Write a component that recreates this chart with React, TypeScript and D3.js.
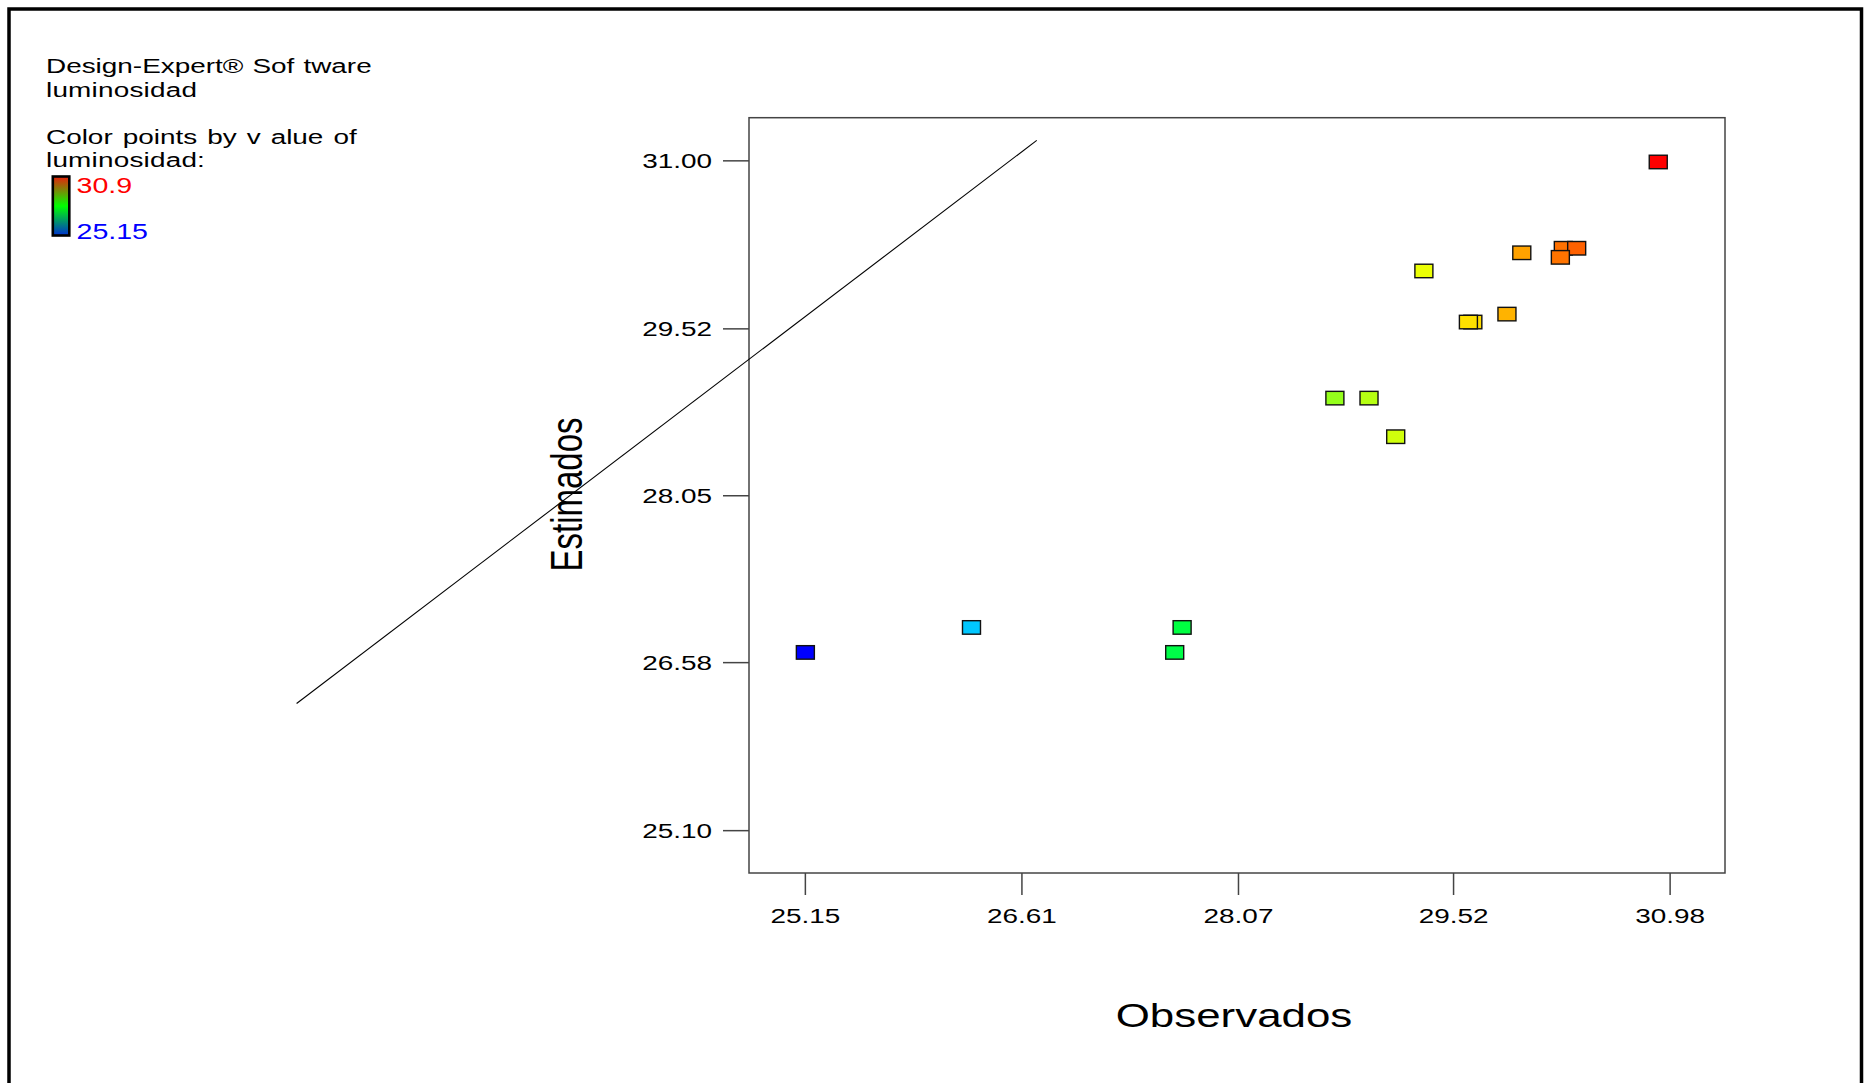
import React from "react";
import * as d3 from "d3";

// Observed vs. predicted luminosity (Design-Expert diagnostics plot)
const observed = [25.15, 26.27, 27.69, 27.64, 28.72, 28.95, 29.13, 29.32, 29.65, 29.62, 29.88, 29.98, 30.26, 30.35, 30.24, 30.9];
const predicted = [26.67, 26.89, 26.89, 26.67, 28.91, 28.91, 28.57, 30.03, 29.58, 29.58, 29.65, 30.19, 30.23, 30.23, 30.15, 30.99];

const xTicks = [25.15, 26.61, 28.07, 29.52, 30.98];
const yTicks = [25.1, 26.58, 28.05, 29.52, 31.0];

// reference line as drawn by the software (observed, estimated)
const refLine: [number, number][] = [
  [21.72, 26.22],
  [26.71, 31.18],
];

const colorStops = [25.15, 26.3, 27.7, 29.45, 30.9];
const colorRange = ["#0000ff", "#00ccff", "#00ff40", "#ffff00", "#ff0000"];
const legendMax = "30.9";
const legendMin = "25.15";

const W = 1865;
const H = 1083;
const SX = 1.33; // horizontal stretch of the exported graphic
const FONT = "'Liberation Sans', Arial, Helvetica, sans-serif";

const plot = { left: 749, right: 1725, top: 117.7, bottom: 873 };

export default function App() {
  const x = d3.scaleLinear().domain([24.77, 31.35]).range([plot.left, plot.right]);
  const y = d3.scaleLinear().domain([24.727, 31.38]).range([plot.bottom, plot.top]);
  const color = d3.scaleLinear<string>().domain(colorStops).range(colorRange).interpolate(d3.interpolateRgb);
  const line = d3
    .line<[number, number]>()
    .x((d) => x(d[0]))
    .y((d) => y(d[1]));

  const markW = 18;
  const markH = 13.5;

  const stretched = (tx: number, ty: number, extra = "") => `translate(${tx},${ty}) scale(${SX},1)${extra}`;

  return (
    <svg
      width={W}
      height={H}
      style={{ position: "absolute", left: 0, top: 0, background: "#fff" }}
      fontFamily={FONT}
    >
      <rect x={0} y={0} width={W} height={H} fill="#fff" />
      {/* outer frame */}
      <rect x={9} y={9} width={1852.5} height={H + 20} fill="none" stroke="#000" strokeWidth={3.5} />

      {/* header text */}
      <g fontSize={21} fill="#000">
        <text transform={stretched(46, 73.3)} wordSpacing={1}>Design-Expert® Sof tware</text>
        <text transform={stretched(46, 96.7)} letterSpacing={0.15}>luminosidad</text>
        <text transform={stretched(46, 144)} wordSpacing={1.7}>Color points by v alue of</text>
        <text transform={stretched(46, 167.3)} letterSpacing={0.15}>luminosidad:</text>
      </g>

      {/* colour legend */}
      <defs>
        <linearGradient id="lumGrad" x1="0" y1="0" x2="0" y2="1">
          <stop offset="0" stopColor="#e8200c" />
          <stop offset="0.5" stopColor="#00ff00" />
          <stop offset="1" stopColor="#0030d0" />
        </linearGradient>
      </defs>
      <rect x={52.8} y={176.5} width={16.5} height={59} fill="url(#lumGrad)" stroke="#000" strokeWidth={2.6} />
      <text transform={stretched(76.5, 192.7)} fontSize={21.5} fill="#ff0000">
        {legendMax}
      </text>
      <text transform={stretched(76.5, 239.3)} fontSize={21.5} fill="#0000ff">
        {legendMin}
      </text>

      {/* plot frame */}
      <rect
        x={plot.left}
        y={plot.top}
        width={plot.right - plot.left}
        height={plot.bottom - plot.top}
        fill="none"
        stroke="#444"
        strokeWidth={1.5}
      />

      {/* x axis */}
      {xTicks.map((t) => (
        <g key={"x" + t}>
          <line x1={x(t)} x2={x(t)} y1={plot.bottom} y2={plot.bottom + 22} stroke="#444" strokeWidth={1.5} />
          <text transform={stretched(x(t), 922.7)} textAnchor="middle" fontSize={21} fill="#000">
            {t.toFixed(2)}
          </text>
        </g>
      ))}

      {/* y axis */}
      {yTicks.map((t) => (
        <g key={"y" + t}>
          <line x1={plot.left - 26} x2={plot.left} y1={y(t)} y2={y(t)} stroke="#444" strokeWidth={1.5} />
          <text transform={stretched(712, y(t) + 7.5)} textAnchor="end" fontSize={21} fill="#000">
            {t.toFixed(2)}
          </text>
        </g>
      ))}

      {/* axis titles */}
      <text transform={stretched(1234, 1026.7)} textAnchor="middle" fontSize={33} fill="#000">
        Observados
      </text>
      <text transform={stretched(581.6, 494.5, " rotate(-90)")} textAnchor="middle" fontSize={33} fill="#000">
        Estimados
      </text>

      {/* points */}
      {observed.map((o, i) => (
        <rect
          key={"p" + i}
          x={x(o) - markW / 2}
          y={y(predicted[i]) - markH / 2}
          width={markW}
          height={markH}
          fill={color(o)}
          stroke="#111"
          strokeWidth={1.4}
        />
      ))}

      {/* reference line */}
      <path d={line(refLine) || ""} fill="none" stroke="#000" strokeWidth={1.1} />
    </svg>
  );
}
